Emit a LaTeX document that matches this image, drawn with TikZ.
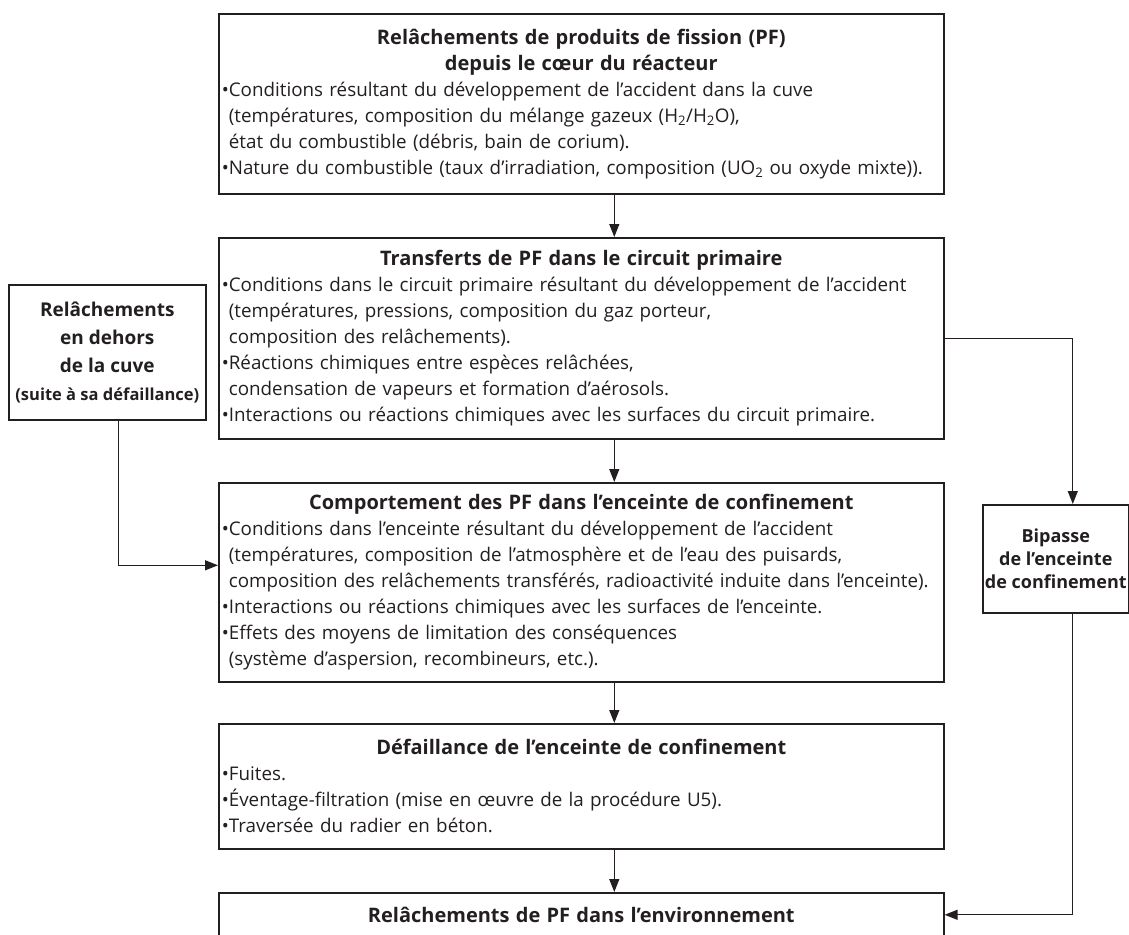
\documentclass[tikz,border=0pt]{standalone}
\usepackage{fontspec}
\setmainfont{Open Sans}
\usetikzlibrary{arrows.meta,positioning,calc}
\definecolor{inkcolor}{RGB}{35,31,32}
\newcommand{\suite}{\phantom{•}}
\newcommand{\titre}[1]{\makebox[\linewidth]{\fontsize{20}{24}\selectfont\bfseries #1}}

\begin{document}
\begin{tikzpicture}[x=1pt,y=-1pt,
  stagebox/.style={draw=inkcolor, line width=1.6pt, anchor=north west,
    minimum width=725pt, inner xsep=3pt, inner ysep=0pt, text width=719pt,
    align=left, text=inkcolor, font=\fontsize{18.8}{26}\selectfont},
  sidebox/.style={draw=inkcolor, line width=1.6pt, anchor=north west,
    inner sep=0pt, align=center, text=inkcolor,
    font=\fontsize{19}{28}\selectfont\bfseries},
  flow/.style={draw=inkcolor, line width=1.3pt, -{Triangle[length=13pt,width=10pt]}}]

% Page frame
\useasboundingbox (0,0) rectangle (1129,934);
\clip (0,0) rectangle (1129,934);

% Core releases
\node[stagebox, minimum height=180pt] (core) at (218,13) {%
\titre{Relâchements de produits de fission (PF)}\\
\titre{depuis le cœur du réacteur}\\
•Conditions résultant du développement de l’accident dans la cuve\\
\suite(températures, composition du mélange gazeux (H\textsubscript{2}/H\textsubscript{2}O),\\
\suite état du combustible (débris, bain de corium).\\
•Nature du combustible (taux d’irradiation, composition (UO\textsubscript{2} ou oxyde mixte)).};

% Primary circuit
\node[stagebox, minimum height=201pt] (primary) at (218,237) {%
\titre{Transferts de PF dans le circuit primaire}\\
•Conditions dans le circuit primaire résultant du développement de l’accident\\
\suite(températures, pressions, composition du gaz porteur,\\
\suite composition des relâchements).\\
•Réactions chimiques entre espèces relâchées,\\
\suite condensation de vapeurs et formation d’aérosols.\\
•Interactions ou réactions chimiques avec les surfaces du circuit primaire.};

% Containment
\node[stagebox, minimum height=199pt] (containment) at (218,482) {%
\titre{Comportement des PF dans l’enceinte de confinement}\\
•Conditions dans l’enceinte résultant du développement de l’accident\\
\suite(températures, composition de l’atmosphère et de l’eau des puisards,\\
\suite composition des relâchements transférés, radioactivité induite dans l’enceinte).\\
•Interactions ou réactions chimiques avec les surfaces de l’enceinte.\\
•Effets des moyens de limitation des conséquences\\
\suite(système d’aspersion, recombineurs, etc.).};

% Containment failure
\node[stagebox, minimum height=125pt] (failure) at (218,723) {%
\titre{Défaillance de l’enceinte de confinement}\\
•Fuites.\\
•Éventage-filtration (mise en œuvre de la procédure U5).\\
•Traversée du radier en béton.};

% Environment
\node[stagebox, minimum height=44pt] (environment) at (218,892) {%
\titre{Relâchements de PF dans l’environnement}};

% Side boxes
\node[sidebox, minimum width=197pt, minimum height=135pt] (vessel) at (8,284) {%
Relâchements\\en dehors\\de la cuve\\
{\fontsize{16.5}{28}\selectfont(suite à sa défaillance)}};

\node[sidebox, minimum width=146pt, minimum height=108pt,
  font=\fontsize{18}{23}\selectfont\bfseries] (bypass) at (982,504) {%
Bipasse\\de l’enceinte\\de confinement};

% Connectors
\draw[flow] ([xshift=33pt]core.south) -- ([xshift=33pt]primary.north);
\draw[flow] ([xshift=33pt]primary.south) -- ([xshift=33pt]containment.north);
\draw[flow] ([xshift=33pt]containment.south) -- ([xshift=33pt]failure.north);
\draw[flow] ([xshift=33pt]failure.south) -- ([xshift=33pt]environment.north);
\draw[flow] ([xshift=11pt]vessel.south) |- ([yshift=17pt]containment.west);
\draw[flow] (primary.east) -| ([xshift=17pt]bypass.north);
\draw[flow] ([xshift=17pt]bypass.south) |- (environment.east);

\end{tikzpicture}
\end{document}
